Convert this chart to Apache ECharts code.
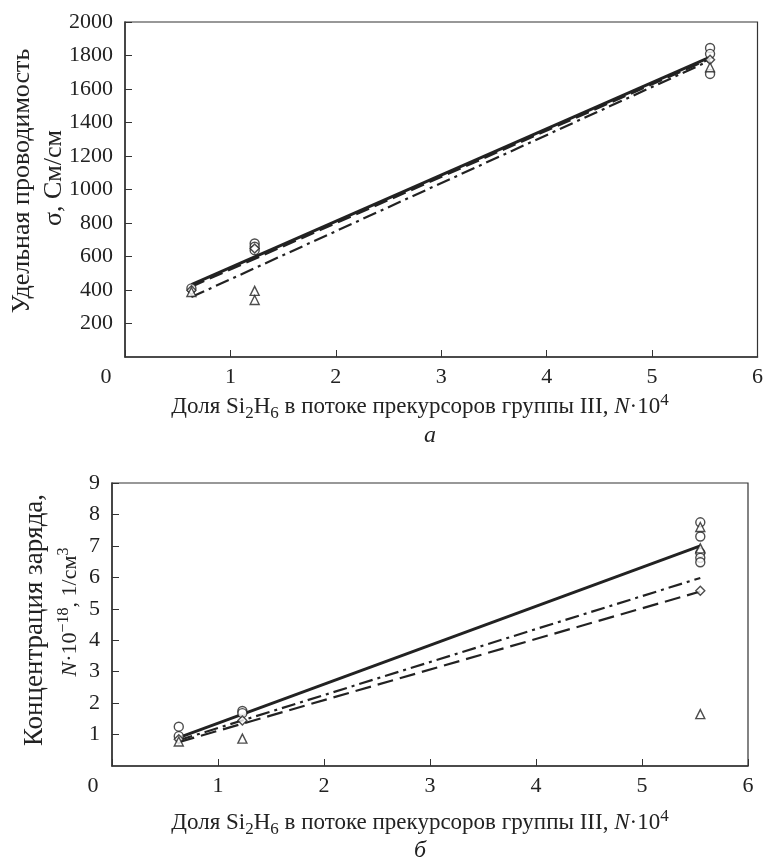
<!DOCTYPE html>
<html><head><meta charset="utf-8">
<script src="https://cdn.jsdelivr.net/npm/echarts@6/dist/echarts.min.js"></script>
<style>html,body{margin:0;padding:0;background:#fff}#c{width:766px;height:860px}</style>
</head><body><div id="c"></div>
<script>
// ---- Data (a): conductivity, См/см ----
const aCircles   = [[0.63,410],[1.23,678],[1.23,658],[1.23,638],[5.55,1845],[5.55,1810],[5.55,1690]];
const aDiamonds  = [[0.63,398],[1.23,648],[5.55,1775]];
const aTriangles = [[0.63,388],[1.23,395],[1.23,340],[5.55,1730]];
const aSolid     = [[0.63,432],[5.55,1790]];
const aDashed    = [[0.63,420],[5.55,1780]];
const aDashDot   = [[0.63,358],[5.55,1770]];
// ---- Data (б): carrier concentration, N·10^-18 1/см3 ----
const bCircles   = [[0.63,1.25],[0.63,0.95],[1.23,1.75],[1.23,1.68],[5.55,7.75],[5.55,7.3],[5.55,6.78],[5.55,6.62],[5.55,6.48]];
const bDiamonds  = [[0.63,0.85],[1.23,1.45],[5.55,5.57]];
const bTriangles = [[0.63,0.78],[1.23,0.87],[5.55,7.6],[5.55,6.92],[5.55,1.65]];
const bSolid     = [[0.63,0.9],[5.55,7.0]];
const bDashDot   = [[0.63,0.82],[5.55,5.98]];
const bDashed    = [[0.63,0.76],[5.55,5.55]];
const xTicks = [0,1,2,3,4,5,6];

const FONT = '"Liberation Serif","Times New Roman",serif';
const INK = '#222';
const chart = echarts.init(document.getElementById('c'));

function xAxisCfg(idx){
  return {gridIndex:idx,type:'value',min:xTicks[0],max:xTicks[xTicks.length-1],interval:1,
    axisLine:{onZero:false,lineStyle:{color:'#333',width:1.5}},
    axisTick:{inside:true,length:7,lineStyle:{color:'#333'}},
    splitLine:{show:false},
    axisLabel:{margin:9,fontFamily:FONT,fontSize:22,color:INK,
      formatter:v=> v===0 ? '{z|0}' : String(v),
      rich:{z:{fontFamily:FONT,fontSize:22,color:INK,padding:[0,38,0,0]}}}};
}
function yAxisCfg(idx,max,interval){
  return {gridIndex:idx,type:'value',min:0,max:max,interval:interval,
    axisLine:{lineStyle:{color:'#333',width:1.5}},
    axisTick:{inside:true,length:7,lineStyle:{color:'#333'}},
    splitLine:{show:false},
    axisLabel:{margin:12,fontFamily:FONT,fontSize:22,color:INK,showMinLabel:false,formatter:v=>String(v)}};
}
function scat(data,sym,size,xi){
  return {type:'scatter',xAxisIndex:xi,yAxisIndex:xi,data:data,symbol:sym,symbolSize:size,
    itemStyle:{color:'#fff',borderColor:INK,borderWidth:1.4},z:3,silent:true};
}
function line(data,xi,type,width){
  return {type:'line',xAxisIndex:xi,yAxisIndex:xi,data:data,symbol:'none',
    lineStyle:{color:INK,width:width,type:type},z:2,silent:true};
}
const sub = {fontFamily:FONT,fontSize:17,color:INK,padding:[13,0,0,0]};
const sup = {fontFamily:FONT,fontSize:17,color:INK,padding:[0,0,12,0]};
function xTitle(y){
  return {type:'text',x:420,y:y,style:{
    text:'Доля Si{sub|2}H{sub|6} в потоке прекурсоров группы III, {it|N}·10{sup|4}',
    font:'23px '+FONT,fill:INK,textAlign:'center',textVerticalAlign:'middle',
    rich:{sub:sub,sup:sup,it:{fontFamily:FONT,fontSize:23,fontStyle:'italic',color:INK}}}};
}
chart.setOption({
  animation:false,
  grid:[
    {left:125,top:22,right:7,bottom:503,show:true,borderColor:'#333',borderWidth:1.2},
    {left:112,top:483,right:18,bottom:94,show:true,borderColor:'#333',borderWidth:1.2}
  ],
  xAxis:[xAxisCfg(0),xAxisCfg(1)],
  yAxis:[yAxisCfg(0,2000,200),yAxisCfg(1,9,1)],
  series:[
    line(aSolid,0,'solid',3),line(aDashed,0,[14,6],2.2),line(aDashDot,0,[14,5,3,5],2.2),
    scat(aCircles,'circle',9,0),scat(aDiamonds,'diamond',9,0),scat(aTriangles,'triangle',9,0),
    line(bSolid,1,'solid',3),line(bDashDot,1,[14,5,3,5],2.2),line(bDashed,1,[16,7],2.2),
    scat(bCircles,'circle',9,1),scat(bDiamonds,'diamond',9,1),scat(bTriangles,'triangle',9,1)
  ],
  graphic:[
    {type:'text',x:22,y:181,rotation:Math.PI/2,style:{text:'Удельная проводимость',font:'26px '+FONT,fill:INK,textAlign:'center',textVerticalAlign:'middle'}},
    {type:'text',x:54,y:178,rotation:Math.PI/2,style:{text:'σ, См/см',font:'26px '+FONT,fill:INK,textAlign:'center',textVerticalAlign:'middle'}},
    xTitle(407),
    {type:'text',x:430,y:436,style:{text:'а',font:'italic 24px '+FONT,fill:INK,textAlign:'center',textVerticalAlign:'middle'}},
    {type:'text',x:35,y:620,rotation:Math.PI/2,style:{text:'Концентрация заряда,',font:'27px '+FONT,fill:INK,textAlign:'center',textVerticalAlign:'middle'}},
    {type:'text',x:70,y:612,rotation:Math.PI/2,style:{text:'{it|N}·10{sup|−18}, 1/см{sup|3}',font:'22px '+FONT,fill:INK,textAlign:'center',textVerticalAlign:'middle',
      rich:{it:{fontFamily:FONT,fontSize:22,fontStyle:'italic',color:INK},sup:{fontFamily:FONT,fontSize:16,color:INK,padding:[0,0,13,0]}}}},
    xTitle(823),
    {type:'text',x:420,y:851,style:{text:'б',font:'italic 24px '+FONT,fill:INK,textAlign:'center',textVerticalAlign:'middle'}}
  ]
});
</script></body></html>
